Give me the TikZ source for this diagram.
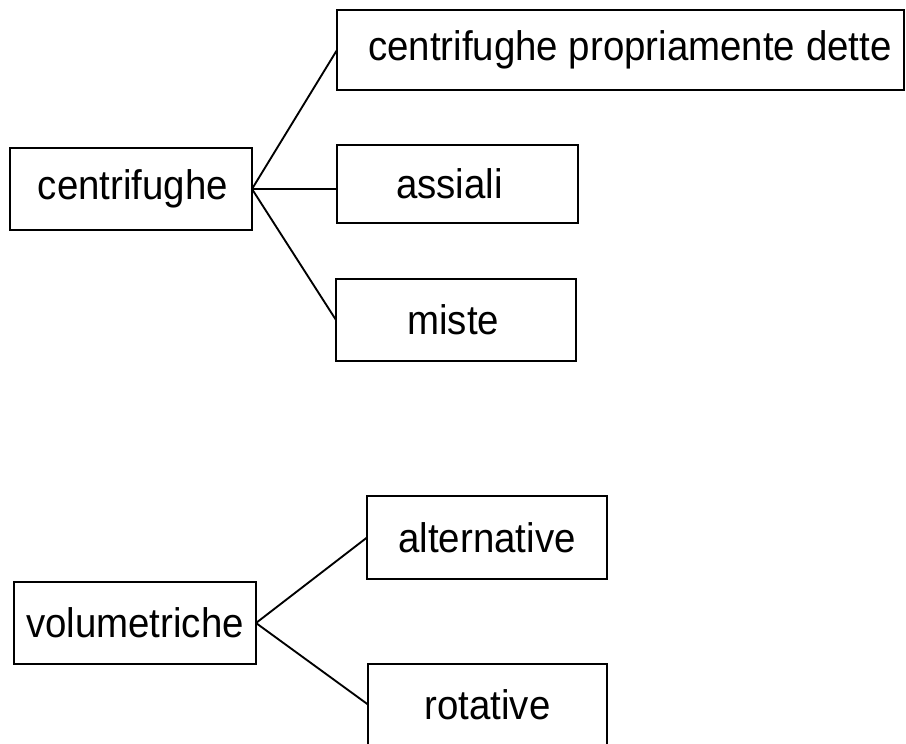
\documentclass[tikz,border=0pt]{standalone}
\usepackage{fontspec}
\setmainfont{Liberation Sans}[FakeStretch=0.93]
\begin{document}
\begin{tikzpicture}[x=0.75pt,y=-0.75pt,
  boxst/.style={draw=black,line width=1.6pt,inner sep=0pt,outer sep=0pt,
    font=\fontsize{31}{36}\selectfont,text=black},
  linkst/.style={draw=black,line width=1.4pt}]
\useasboundingbox[fill=white] (0,0) rectangle (906,743);
\clip (0,0) rectangle (906,743);
\node[boxst,minimum width=425.25pt,minimum height=60pt] (top) at (620.5,50) {\hspace*{14pt}centrifughe propriamente dette};
\node[boxst,minimum width=181.5pt,minimum height=61.5pt] (cent) at (131,189) {\hspace*{3pt}centrifughe};
\node[boxst,minimum width=180.75pt,minimum height=58.5pt] (ass) at (457.5,184) {assiali\hspace*{12pt}};
\node[boxst,minimum width=180pt,minimum height=61.5pt] (miste) at (456,320) {miste\hspace*{4pt}};
\node[boxst,minimum width=180pt,minimum height=62.25pt] (alt) at (487,537.5) {alternative};
\node[boxst,minimum width=181.5pt,minimum height=61.5pt] (vol) at (135,623) {volumetriche};
\node[boxst,minimum width=179.25pt,minimum height=60.75pt] (rot) at (487.5,704.5) {rotative};
\draw[linkst] (cent.east) -- (top.west);
\draw[linkst] (cent.east) -- (ass.west |- cent.east);
\draw[linkst] (cent.east) -- (miste.west);
\draw[linkst] (vol.east) -- (alt.west);
\draw[linkst] (vol.east) -- (rot.west);
\end{tikzpicture}
\end{document}
